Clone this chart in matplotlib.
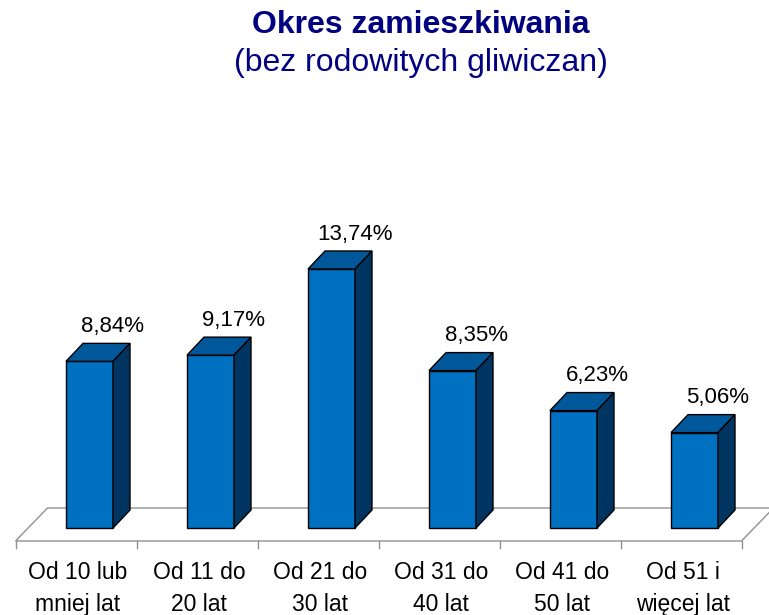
import matplotlib
matplotlib.use("Agg")
import matplotlib.pyplot as plt
from matplotlib.patches import Polygon

categories = ["Od 10 lub\nmniej lat", "Od 11 do\n20 lat", "Od 21 do\n30 lat",
              "Od 31 do\n40 lat", "Od 41 do\n50 lat", "Od 51 i\nwięcej lat"]
values = [8.84, 9.17, 13.74, 8.35, 6.23, 5.06]
value_labels = ["8,84%", "9,17%", "13,74%", "8,35%", "6,23%", "5,06%"]
title = "Okres zamieszkiwania"
subtitle = "(bez rodowitych gliwiczan)"

W, H = 769, 615
fig = plt.figure(figsize=(W / 100, H / 100), dpi=100)
ax = fig.add_axes([0, 0, 1, 1])
ax.set_axis_off()

px_cat = 121.0      # pixels per category
px_pct = 18.85      # pixels per percent
x0_px = 76.0        # first category center (pixels)
base_px = 528.0     # bar bottom (pixels from top)
ax.set_xlim((0 - x0_px) / px_cat, (W - x0_px) / px_cat)
ax.set_ylim(-(H - base_px) / px_pct, base_px / px_pct)

font = "Liberation Sans"
front_c = "#0070C0"
top_c = "#00589A"
side_c = "#003562"

# floor
fdx, fdy = 32 / px_cat, 33 / px_pct
f_front = -13 / px_pct
f_left = -0.5
f_right = len(categories) - 0.5
floor = Polygon([(f_left, f_front), (f_right, f_front),
                 (f_right + fdx, f_front + fdy), (f_left + fdx, f_front + fdy)],
                closed=True, facecolor="white", edgecolor="#909090", lw=1.0, zorder=1)
ax.add_patch(floor)
# ticks at front edge
for k in range(len(categories) + 1):
    xk = k - 0.5
    ax.plot([xk, xk], [f_front, f_front - 7 / px_pct], color="#909090", lw=1.0, zorder=1)

bw = 47 / px_cat
boff = 13.5 / px_cat - bw / 2
ddx, ddy = 17 / px_cat, 18 / px_pct
for i, (v, lab) in enumerate(zip(values, value_labels)):
    xl = i + boff
    xr = xl + bw
    front = Polygon([(xl, 0), (xr, 0), (xr, v), (xl, v)], closed=True,
                    facecolor=front_c, edgecolor="black", lw=1.0, zorder=3)
    top = Polygon([(xl, v), (xr, v), (xr + ddx, v + ddy), (xl + ddx, v + ddy)], closed=True,
                  facecolor=top_c, edgecolor="black", lw=1.0, zorder=3)
    side = Polygon([(xr, 0), (xr + ddx, ddy), (xr + ddx, v + ddy), (xr, v)], closed=True,
                   facecolor=side_c, edgecolor="black", lw=1.0, zorder=3)
    for p in (front, top, side):
        ax.add_patch(p)
    ax.text(i + 13.5 / px_cat + 23.5 / px_cat, v + ddy + 17 / px_pct, lab,
            ha="center", va="center", fontsize=16, family=font, color="black", zorder=4)

for i, c in enumerate(categories):
    ax.text(i + 2 / px_cat, -(588.5 - base_px) / px_pct, c, ha="center", va="center",
            fontsize=16.5, family=font, linespacing=1.45, color="black")

fig.text(421 / W, 1 - 25 / H, title, ha="center", va="center", fontsize=23,
         fontweight="bold", family=font, color="#000080")
fig.text(421 / W, 1 - 63 / H, subtitle, ha="center", va="center", fontsize=23,
         family=font, color="#000080")

fig.savefig("out.png", dpi=100)
